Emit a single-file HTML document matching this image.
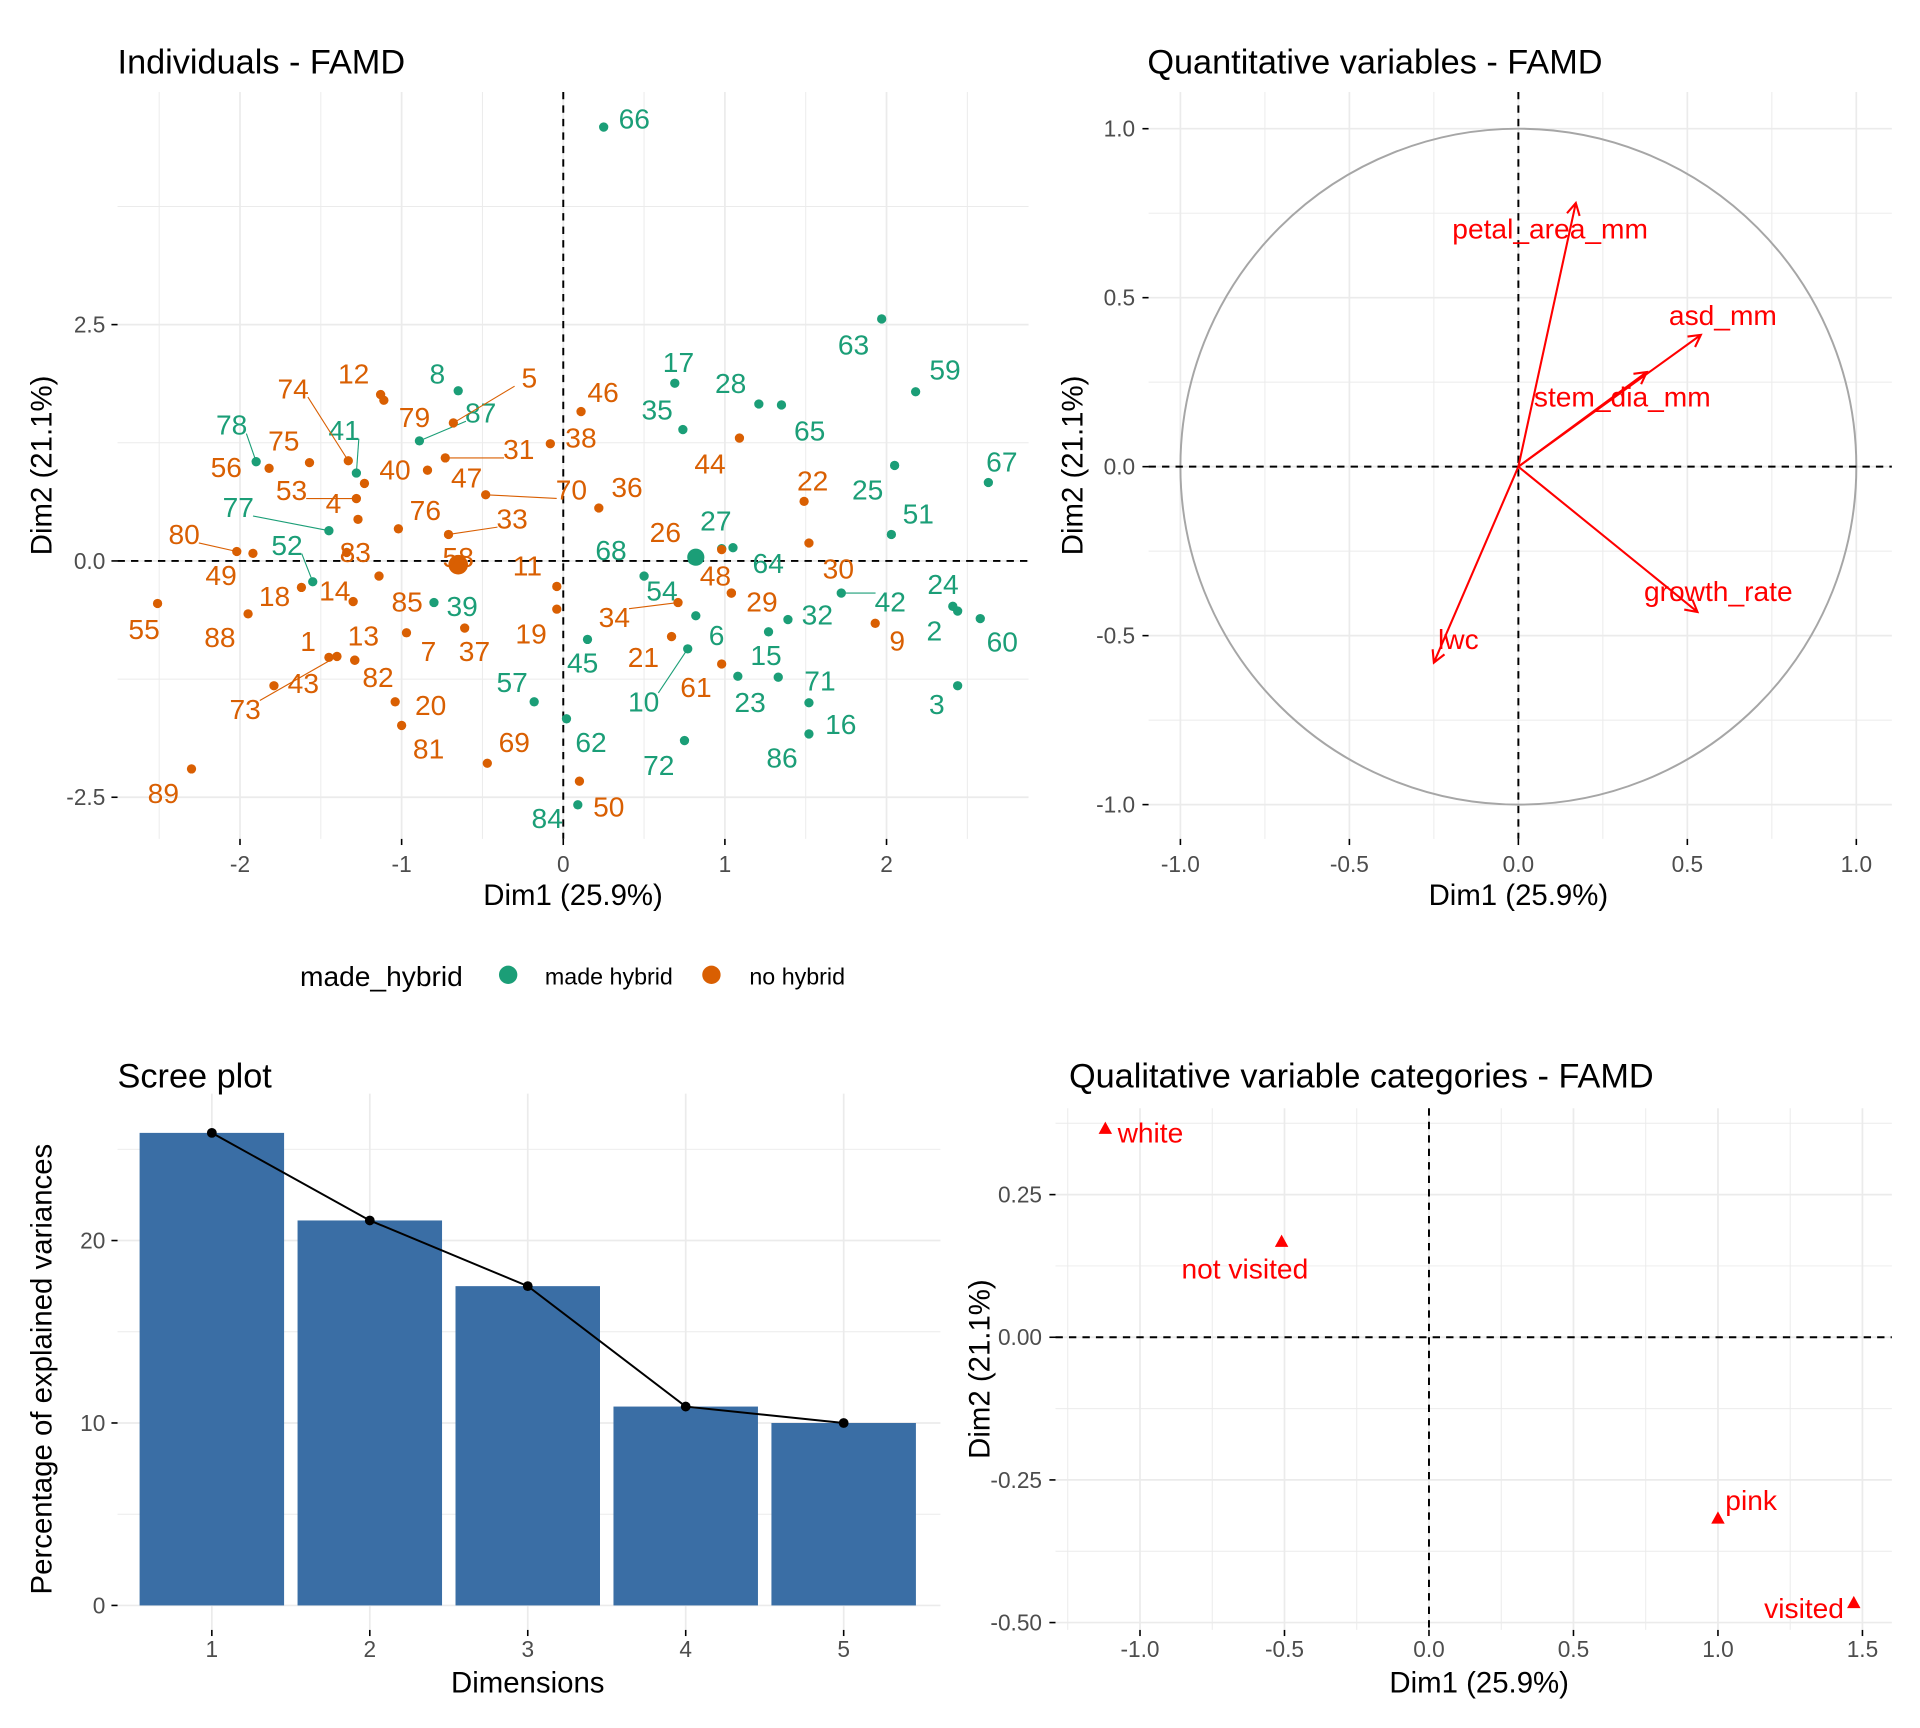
<!DOCTYPE html>
<html><head><meta charset="utf-8">
<style>
html,body{margin:0;padding:0;background:#fff;}
svg{display:block;font-family:"Liberation Sans",Arial,sans-serif;}
.tick{fill:#4d4d4d;font-size:18.5px;}
.ttl{fill:#000;font-size:28px;}
.axt{fill:#000;font-size:24px;}
</style></head>
<body>
<svg id="fig" width="1920" height="1728" viewBox="0 0 1568 1411" xmlns="http://www.w3.org/2000/svg">
<g id="p1"></g>
<g id="p2"></g>
<g id="p3"></g>
<g id="p4"></g>
<g>
<text x="245" y="805" font-size="23">made_hybrid</text>
<circle cx="415" cy="796" r="7.5" fill="#1b9e77"/>
<text x="445" y="804" font-size="19">made hybrid</text>
<circle cx="581" cy="796" r="7.5" fill="#d95f02"/>
<text x="612" y="804" font-size="19">no hybrid</text>
</g>
</svg>
<script>
// ---------- Individuals data ----------
const indLabels=["66","8","87","17","28","35","65","63","59","67","25","51","78","41","77","52","68","27","64","54","6","15","23","71","16","86","72","62","84","57","45","10","39","32","42","24","2","60","3",
"12","5","79","74","75","56","40","53","4","47","31","46","38","70","36","44","22","33","76","80","49","83","58","11","26","48","29","30","14","85","1","7","37","19","21","61","34","9","43","13","82","73","20","81","69","89","50","55","88","18"];
const indGroup=["g","g","g","g","g","g","g","g","g","g","g","g","g","g","g","g","g","g","g","g","g","g","g","g","g","g","g","g","g","g","g","g","g","g","g","g","g","g","g",
"o","o","o","o","o","o","o","o","o","o","o","o","o","o","o","o","o","o","o","o","o","o","o","o","o","o","o","o","o","o","o","o","o","o","o","o","o","o","o","o","o","o","o","o","o","o","o","o","o","o"];
const indDim1=[0.25,-0.65,-0.89,0.69,1.21,0.74,1.35,1.97,2.18,2.63,2.05,2.03,-1.90,-1.28,-1.45,-1.55,0.50,1.05,0.98,0.80,0.82,1.33,1.08,1.52,1.52,1.27,0.75,0.02,0.09,-0.18,0.15,0.77,-0.80,1.39,1.72,2.41,2.44,2.58,2.44,
-1.13,-0.68,-1.11,-1.33,-1.57,-1.82,-1.23,-1.28,-1.27,-0.84,-0.73,0.11,-0.08,-0.48,0.22,1.09,1.49,-0.71,-1.02,-2.02,-1.92,-1.34,-0.65,-0.04,0.98,1.04,1.04,1.52,-1.30,-1.14,-1.45,-0.97,-0.61,-0.04,0.67,0.98,0.71,1.93,-1.79,-1.29,-1.29,-1.40,-1.04,-1.00,-0.47,-2.30,0.10,-2.51,-1.95,-1.62];
const indDim2=[4.59,1.80,1.27,1.88,1.66,1.39,1.65,2.56,1.79,0.83,1.01,0.28,1.05,0.93,0.32,-0.22,-0.16,0.14,0.13,0.01,-0.58,-1.23,-1.22,-1.50,-1.83,-0.75,-1.90,-1.67,-2.58,-1.49,-0.83,-0.93,-0.44,-0.62,-0.34,-0.48,-0.53,-0.61,-1.32,
1.76,1.46,1.70,1.06,1.04,0.98,0.82,0.66,0.44,0.96,1.09,1.58,1.24,0.70,0.56,1.30,0.63,0.28,0.34,0.10,0.08,0.09,-0.04,-0.27,0.12,-0.34,-0.34,0.19,-0.43,-0.16,-1.02,-0.76,-0.71,-0.51,-0.80,-1.09,-0.44,-0.66,-1.32,-1.05,-1.05,-1.01,-1.49,-1.74,-2.14,-2.20,-2.33,-0.45,-0.56,-0.28];
// label offsets (pixels) from point, for repelled labels
const labDx=[25,-17,50,3,-23,-21,23,-23,24,11,-22,22,-20,-10,-74,-21,-27,-14,38,-25,17,-10,10,9,26,11,-21,20,-25,-18,-4,-36,23,24,40,-8,-19,18,-17,
-22,62,25,-45,-21,-35,25,-53,-20,32,60,18,25,70,23,-24,7,52,22,-43,-26,7,0,-24,-46,-13,25,24,-15,23,-17,18,8,-21,-23,-21,-52,18,24,7,19,-75,29,22,22,-23,24,-11,-23,-22];
const labDy=[-7,-14,-23,-17,-17,-16,21,21,-18,-17,20,-17,-30,-35,-19,-30,-21,-22,12,25,16,-18,21,-18,-8,103,20,19,11,-16,19,43,3,-4,7,-18,16,19,15,
-17,-37,14,-59,-18,-1,-11,-7,-13,6,-7,-16,-5,-4,-17,21,-17,-13,-15,-14,18,0,-6,-17,-14,-14,7,21,-9,21,-13,15,19,20,17,19,12,14,-2,-20,14,43,3,19,-17,20,21,21,19,7];
const indSegment=["87","78","41","77","52","10","42","5","74","53","31","70","33","80","34","73"];

// ---------- Quantitative variables ----------
const varNames=["petal_area_mm","asd_mm","stem_dia_mm","growth_rate","lwc"];
const varDim1=[0.17,0.54,0.38,0.53,-0.25];
const varDim2=[0.78,0.39,0.28,-0.43,-0.58];
const varLabDx=[-21,18,-20,17,20];
const varLabDy=[21,-16,20,-17,-19];

// ---------- Scree ----------
const screeDims=[1,2,3,4,5];
const screeVals=[25.9,21.1,17.5,10.9,10.0];
const screeTicks=[0,10,20];

// ---------- Qualitative categories ----------
const catNames=["white","not visited","pink","visited"];
const catDim1=[-1.12,-0.51,1.00,1.47];
const catDim2=[0.365,0.167,-0.318,-0.466];
const catAnchor=["start","middle","start","end"];
const catLabDx=[10,-30,6,-8];
const catLabDy=[11,30,-7,12];

const NS="http://www.w3.org/2000/svg";
function mk(parent,tag,attrs){const e=document.createElementNS(NS,tag);for(const k in attrs)e.setAttribute(k,attrs[k]);parent.appendChild(e);return e;}
function txt(parent,x,y,s,cls,anchor,extra){const t=mk(parent,"text",Object.assign({x:x,y:y,"text-anchor":anchor||"start"},extra||{}));if(cls)t.setAttribute("class",cls);t.textContent=s;return t;}
function grid(g,x0,x1,y0,y1,vx,hy,minor){
  vx.filter(x=>x>=x0&&x<=x1).forEach(x=>{const l=mk(g,"line",{x1:x,x2:x,y1:y0,y2:y1,stroke:"#ebebeb","stroke-width":minor?0.8:1.4});
    
    });
  hy.filter(y=>y>=y0&&y<=y1).forEach(y=>{const l=mk(g,"line",{x1:x0,x2:x1,y1:y,y2:y,stroke:"#ebebeb","stroke-width":minor?0.8:1.4});
    
    });
}
function tickMarks(g,L,B,xs,ys){
  xs.forEach(x=>{const l=mk(g,"line",{x1:x,x2:x,y1:B,y2:B+5,stroke:"#000","stroke-width":1.3});
    
    });
  ys.forEach(y=>{const l=mk(g,"line",{x1:L-5,x2:L,y1:y,y2:y,stroke:"#000","stroke-width":1.3});
    
    });
}
function dashed(g,x1,y1,x2,y2){const l=mk(g,"line",{x1:x1,y1:y1,x2:x2,y2:y2,stroke:"#000","stroke-width":1.6,"stroke-dasharray":"6,5"});
  
  }
function frange(a,b,s){const r=[];for(let v=a;v<=b+1e-9;v+=s)r.push(+v.toFixed(4));return r;}

// ===== Panel 1 =====
(function(){
const g=document.getElementById("p1");
const X=v=>460+132*v, Y=v=>458-77.2*v;
const L=96,R=840,T=75,B=685;
grid(g,L,R,T,B,frange(-2.5,2.5,1).map(X),frange(-3.75,3.75,2.5).map(Y),true);
grid(g,L,R,T,B,frange(-2,2,1).map(X),frange(-2.5,2.5,2.5).map(Y),false);
tickMarks(g,L,B,frange(-2,2,1).map(X),[-2.5,0,2.5].map(Y));
dashed(g,L,Y(0),R,Y(0));dashed(g,X(0),T,X(0),B);
[-2.5,0,2.5].forEach(v=>{const t=txt(g,86,Y(v)+6.5,v.toFixed(1),"tick","end");
  
  });
[-2,-1,0,1,2].forEach(v=>{const t=txt(g,X(v),712,String(v),"tick","middle");
  
  });
const tt=txt(g,96,60,"Individuals - FAMD","ttl");


const xt=txt(g,468,739,"Dim1 (25.9%)","axt","middle");


const yt=txt(g,0,0,"Dim2 (21.1%)","axt","middle",{transform:"translate(42,380) rotate(-90)"});


indLabels.forEach((lab,i)=>{
  const col=indGroup[i]==="g"?"#1b9e77":"#d95f02";
  const px=X(indDim1[i]),py=Y(indDim2[i]);
  const lx=px+labDx[i],ly=py+labDy[i];
  if(indSegment.includes(lab)){
    const s=mk(g,"line",{x1:px,y1:py,x2:lx-Math.sign(labDx[i])*12,y2:ly+Math.sign(-labDy[i])*7,stroke:col,"stroke-width":0.9});
    
    
  }
  const c=mk(g,"circle",{cx:px,cy:py,r:lab==="58"?8:3.8,fill:col});
  
  
  const t=txt(g,lx,ly+8,lab,null,"middle",{fill:col,"font-size":"23px"});
  
  
});
const cg=mk(g,"circle",{cx:X(0.82),cy:Y(0.04),r:7,fill:"#1b9e77"});


})();

// ===== Panel 2 =====
(function(){
const g=document.getElementById("p2");
const X=v=>1240+276*v, Y=v=>381-276*v;
const L=938,R=1545,T=75,B=685;
grid(g,L,R,T,B,frange(-0.75,0.75,0.5).map(X),frange(-0.75,0.75,0.5).map(Y),true);
grid(g,L,R,T,B,frange(-1,1,0.5).map(X),frange(-1,1,0.5).map(Y),false);
tickMarks(g,L,B,frange(-1,1,0.5).map(X),frange(-1,1,0.5).map(Y));
const circ=mk(g,"circle",{cx:X(0),cy:Y(0),r:276,fill:"none",stroke:"#a6a6a6","stroke-width":1.6});


dashed(g,L,Y(0),R,Y(0));dashed(g,X(0),T,X(0),B);
[-1,-0.5,0,0.5,1].forEach(v=>{
  const a=txt(g,927,Y(v)+6.5,v.toFixed(1),"tick","end");
  
  
  const b=txt(g,X(v),712,v.toFixed(1),"tick","middle");
  
  
});
const tt=txt(g,937,60,"Quantitative variables - FAMD","ttl");


const xt=txt(g,1240,739,"Dim1 (25.9%)","axt","middle");


const yt=txt(g,0,0,"Dim2 (21.1%)","axt","middle",{transform:"translate(884,380) rotate(-90)"});


varNames.forEach((n,i)=>{
  const x0=X(0),y0=Y(0),x1=X(varDim1[i]),y1=Y(varDim2[i]);
  const ang=Math.atan2(y1-y0,x1-x0),h=11,sp=0.5;
  const d=`M${x0},${y0}L${x1},${y1}M${x1-h*Math.cos(ang-sp)},${y1-h*Math.sin(ang-sp)}L${x1},${y1}L${x1-h*Math.cos(ang+sp)},${y1-h*Math.sin(ang+sp)}`;
  const p=mk(g,"path",{d:d,fill:"none",stroke:"#ff0000","stroke-width":1.7});
  
  
  const t=txt(g,x1+varLabDx[i],y1+varLabDy[i]+8,n,null,"middle",{fill:"#ff0000","font-size":"23px"});
  
  
});
})();

// ===== Panel 3 =====
(function(){
const g=document.getElementById("p3");
const X=v=>44+129*v, Y=v=>1311-14.9*v;
const L=96,R=768,T=893,B=1331;
grid(g,L,R,T,B,[],[5,15,25].map(Y),true);
grid(g,L,R,T,B,screeDims.map(X),screeTicks.map(Y),false);
tickMarks(g,L,B,screeDims.map(X),screeTicks.map(Y));
screeDims.forEach((d,i)=>{
  const r=mk(g,"rect",{x:X(d)-59,y:Y(screeVals[i]),width:118,height:Y(0)-Y(screeVals[i]),fill:"#3a6ea5"});
  
  
});
const pl=mk(g,"polyline",{points:screeDims.map((d,i)=>X(d)+","+Y(screeVals[i])).join(" "),fill:"none",stroke:"#000","stroke-width":1.6});


screeDims.forEach((d,i)=>{
  const c=mk(g,"circle",{cx:X(d),cy:Y(screeVals[i]),r:4,fill:"#000"});
  
  
  const t=txt(g,X(d),1353,String(d),"tick","middle");
  
  
});
screeTicks.forEach(v=>{const t=txt(g,86,Y(v)+6.5,String(v),"tick","end");
  
  });
const tt=txt(g,96,888,"Scree plot","ttl");


const xt=txt(g,431,1382,"Dimensions","axt","middle");


const yt=txt(g,0,0,"Percentage of explained variances","axt","middle",{transform:"translate(42,1118) rotate(-90)"});


})();

// ===== Panel 4 =====
(function(){
const g=document.getElementById("p4");
const X=v=>1167+236*v, Y=v=>1092-466*v;
const L=862,R=1545,T=905,B=1331;
grid(g,L,R,T,B,frange(-1.25,1.25,0.5).map(X),frange(-0.375,0.375,0.25).map(Y),true);
grid(g,L,R,T,B,frange(-1,1.5,0.5).map(X),frange(-0.5,0.25,0.25).map(Y),false);
tickMarks(g,L,B,frange(-1,1.5,0.5).map(X),frange(-0.5,0.25,0.25).map(Y));
dashed(g,L,Y(0),R,Y(0));dashed(g,X(0),T,X(0),B);
[-1,-0.5,0,0.5,1,1.5].forEach(v=>{const t=txt(g,X(v),1353,v.toFixed(1),"tick","middle");
  
  });
[-0.5,-0.25,0,0.25].forEach(v=>{const t=txt(g,851,Y(v)+6.5,v.toFixed(2),"tick","end");
  
  });
const tt=txt(g,873,888,"Qualitative variable categories - FAMD","ttl");


const xt=txt(g,1208,1382,"Dim1 (25.9%)","axt","middle");


const yt=txt(g,0,0,"Dim2 (21.1%)","axt","middle",{transform:"translate(808,1118) rotate(-90)"});


catNames.forEach((n,i)=>{
  const px=X(catDim1[i]),py=Y(catDim2[i]);
  const p=mk(g,"path",{d:`M${px},${py-6}L${px+5.5},${py+4}L${px-5.5},${py+4}Z`,fill:"#ff0000"});
  
  
  const t=txt(g,px+catLabDx[i],py+catLabDy[i],n,null,catAnchor[i],{fill:"#ff0000","font-size":"23px"});
  
  
});
})();
</script>
</body></html>
